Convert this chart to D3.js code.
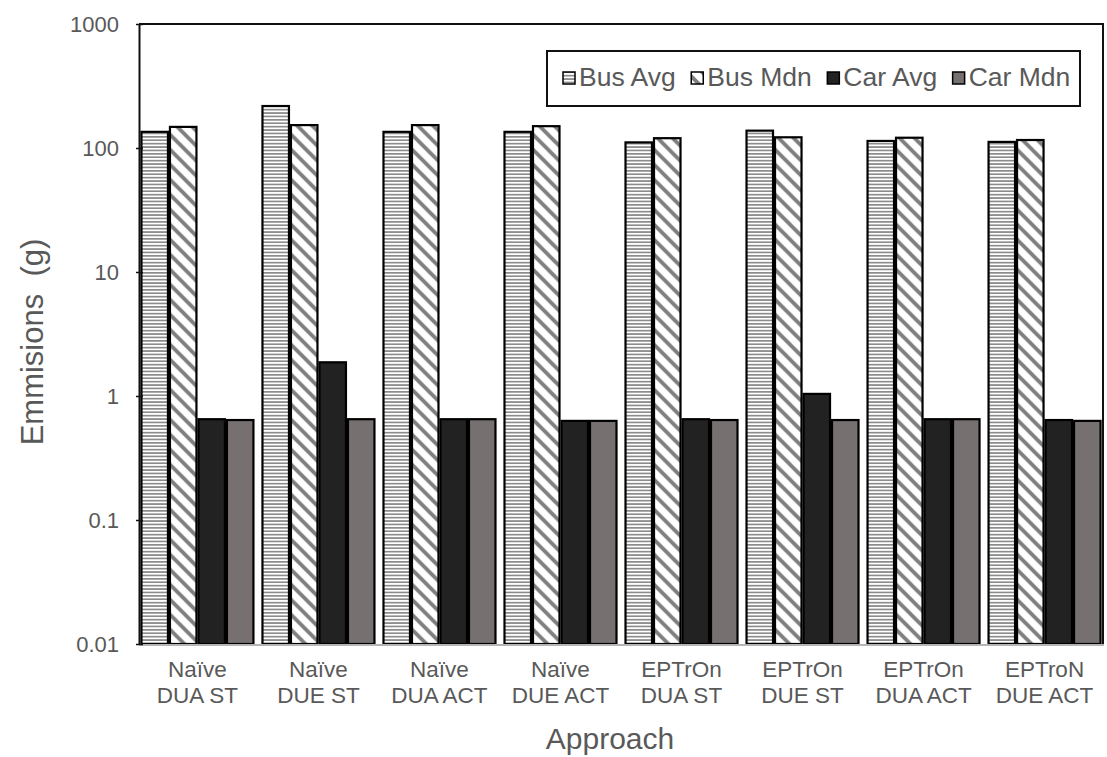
<!DOCTYPE html>
<html>
<head>
<meta charset="utf-8">
<script src="https://cdn.jsdelivr.net/npm/d3@7"></script>
<style>
  html, body { margin: 0; padding: 0; background: #fff; }
  svg { display: block; font-family: "Liberation Sans", Arial, Helvetica, sans-serif; }
</style>
</head>
<body>
<svg id="chart" width="1107" height="757"></svg>
<script>
// ---- Data ----
const categories = [
  ["Naïve", "DUA ST"],
  ["Naïve", "DUE ST"],
  ["Naïve", "DUA ACT"],
  ["Naïve", "DUE ACT"],
  ["EPTrOn", "DUA ST"],
  ["EPTrOn", "DUE ST"],
  ["EPTrOn", "DUA ACT"],
  ["EPTroN", "DUE ACT"]
];
const seriesNames = ["Bus Avg", "Bus Mdn", "Car Avg", "Car Mdn"];
const busAvg = [135, 218, 135, 135, 111, 138, 114, 112];
const busMdn = [148, 153, 153, 150, 120, 122, 121, 116];
const carAvg = [0.65, 1.87, 0.65, 0.63, 0.65, 1.04, 0.65, 0.64];
const carMdn = [0.64, 0.65, 0.65, 0.63, 0.64, 0.64, 0.65, 0.63];
const yTicks = [0.01, 0.1, 1, 10, 100, 1000];
const yTickLabels = ["0.01", "0.1", "1", "10", "100", "1000"];

const seriesValues = [busAvg, busMdn, carAvg, carMdn];

// ---- Layout ----
const svg = d3.select("#chart");
const W = 1107, H = 757;
const pLeft = 139, pRight = 1103, pTop = 24, pBottom = 644;
const textColor = "#595959";

svg.append("rect").attr("width", W).attr("height", H).attr("fill", "#fff");

// patterns
const defs = svg.append("defs");
const pH = defs.append("pattern").attr("id", "pat-h")
  .attr("patternUnits", "userSpaceOnUse").attr("width", 6).attr("height", 3.4);
pH.append("rect").attr("width", 6).attr("height", 3.4).attr("fill", "#fff");
pH.append("rect").attr("width", 6).attr("height", 1.7).attr("fill", "#8c8c8c");

const pD = defs.append("pattern").attr("id", "pat-d")
  .attr("patternUnits", "userSpaceOnUse").attr("width", 15).attr("height", 15);
pD.append("rect").attr("width", 15).attr("height", 15).attr("fill", "#fff");
pD.append("path").attr("d", "M-4,-4 L19,19 M-4,11 L4,19 M11,-4 L19,4")
  .attr("stroke", "#7f7f7f").attr("stroke-width", 3.8).attr("fill", "none");

const fills = ["url(#pat-h)", "url(#pat-d)", "#222222", "#767170"];

// scales
const x0 = d3.scaleBand().domain(d3.range(categories.length))
  .range([pLeft, pRight]).paddingInner(0.058).paddingOuter(0.012);
const x1 = d3.scaleBand().domain(d3.range(seriesNames.length))
  .range([0, x0.bandwidth()]).padding(0);
const y = d3.scaleLog().domain([0.01, 1000]).range([pBottom, pTop]);

// frame (top & right)
svg.append("path")
  .attr("d", `M${pLeft},${pTop} H${pRight} V${pBottom}`)
  .attr("fill", "none").attr("stroke", "#111").attr("stroke-width", 2);

// bars
const groups = svg.append("g").selectAll("g")
  .data(categories).join("g")
  .attr("transform", (d, i) => `translate(${x0(i)},0)`);

groups.selectAll("rect")
  .data((d, i) => seriesValues.map((s, j) => ({ j, v: s[i] })))
  .join("rect")
  .attr("x", d => x1(d.j) + 1)
  .attr("width", x1.bandwidth() - 2)
  .attr("y", d => y(d.v))
  .attr("height", d => pBottom - y(d.v))
  .attr("fill", d => fills[d.j])
  .attr("stroke", "#000")
  .attr("stroke-width", 2.2);

// bottom axis line
svg.append("line")
  .attr("x1", pLeft).attr("x2", pRight + 1).attr("y1", pBottom + 1).attr("y2", pBottom + 1)
  .attr("stroke", "#b5b5b5").attr("stroke-width", 2);

// left axis
const yAxis = d3.axisLeft(y).tickValues(yTicks)
  .tickFormat((d, i) => yTickLabels[i]).tickSizeOuter(0).tickSizeInner(3).tickPadding(17);
const ga = svg.append("g").attr("transform", `translate(${pLeft},0)`).call(yAxis);
ga.select(".domain").attr("stroke", "#111").attr("stroke-width", 2);
ga.selectAll(".tick line").attr("x1", -3).attr("x2", 4).attr("stroke", "#111").attr("stroke-width", 1.5);
ga.selectAll(".tick text").attr("font-size", 22).attr("fill", textColor)
  .attr("font-family", "Liberation Sans, Arial, sans-serif");

// category labels
const catG = svg.append("g").attr("font-size", 22.5).attr("fill", textColor).attr("text-anchor", "middle");
categories.forEach((c, i) => {
  const cx = x0(i) + x0.bandwidth() / 2;
  catG.append("text").attr("x", cx).attr("y", 677).text(c[0]);
  catG.append("text").attr("x", cx).attr("y", 702.5).text(c[1]);
});

// axis titles
svg.append("text")
  .attr("transform", `translate(43,342) rotate(-90)`)
  .attr("text-anchor", "middle").attr("font-size", 31).attr("fill", textColor)
  .style("white-space", "pre")
  .text("Emmisions  (g)");

svg.append("text")
  .attr("x", 610).attr("y", 749)
  .attr("text-anchor", "middle").attr("font-size", 30).attr("fill", textColor)
  .text("Approach");

// legend
const lg = svg.append("g");
lg.append("rect").attr("x", 547).attr("y", 51).attr("width", 533).attr("height", 55)
  .attr("fill", "#fff").attr("stroke", "#111").attr("stroke-width", 2);
let lx = 563;
seriesNames.forEach((name, j) => {
  lg.append("rect").attr("x", lx).attr("y", 72).attr("width", 12).attr("height", 12)
    .attr("fill", fills[j]).attr("stroke", "#000").attr("stroke-width", 1.5);
  const t = lg.append("text").attr("x", lx + 16).attr("y", 86)
    .attr("font-size", 26.5).attr("fill", textColor).text(name);
  lx += 16 + t.node().getComputedTextLength() + 15.5;
});
</script>
</body>
</html>
